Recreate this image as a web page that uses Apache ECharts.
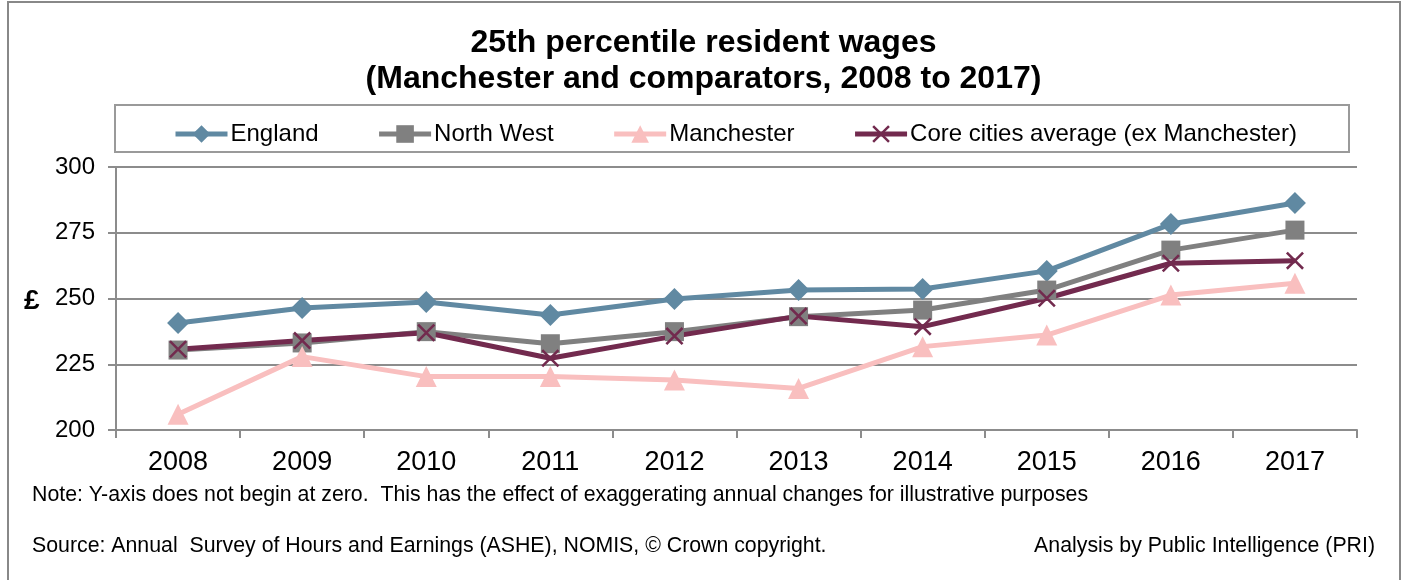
<!DOCTYPE html>
<html><head><meta charset="utf-8">
<script src="https://cdn.jsdelivr.net/npm/echarts@6/dist/echarts.min.js"></script>
<style>html,body{margin:0;padding:0;background:#fff}#c{width:1407px;height:580px}</style>
</head><body><div id="c"></div>
<script>
const years = ['2008','2009','2010','2011','2012','2013','2014','2015','2016','2017'];
const england = [240.7, 246.4, 248.7, 243.7, 249.8, 253.2, 253.6, 260.5, 278.3, 286.3];
const northWest = [230.4, 233.1, 237.4, 232.8, 237.4, 243.1, 245.6, 253.2, 268.4, 276.0];
const manchester = [206.0, 227.9, 220.3, 220.3, 219.0, 215.8, 231.7, 236.1, 251.3, 255.8];
const coreCities = [230.7, 234.0, 237.0, 227.3, 235.7, 243.3, 239.3, 250.1, 263.4, 264.4];
const yTicks = [200, 225, 250, 275, 300];

const F = 'Arial, "Liberation Sans", sans-serif';
const xPath = 'path://M0,1L1,0L10,9L9,10Z M9,0L10,1L1,10L0,9Z';

const chart = echarts.init(document.getElementById('c'), null, {renderer: 'canvas'});
function mk(name, data, color, symbol, size) {
  return {name, type: 'line', data, symbol, symbolSize: size, showSymbol: true,
    lineStyle: {color, width: 5}, itemStyle: {color, borderWidth: 0},
    emphasis: {disabled: true}, animation: false};
}
chart.setOption({
  animation: false,
  backgroundColor: '#fff',
  title: {
    text: '25th percentile resident wages\n(Manchester and comparators, 2008 to 2017)',
    left: 'center', top: 20,
    textStyle: {fontFamily: F, fontWeight: 'bold', fontSize: 32, lineHeight: 36, color: '#000'}
  },
  legend: {
    left: 168, top: 117, itemWidth: 52, itemHeight: 22, itemGap: 58,
    lineStyle: {width: 5},
    textStyle: {fontFamily: F, fontSize: 24, color: '#000', padding: [0,0,0,-2]},
    data: ['England', 'North West', 'Manchester', 'Core cities average (ex Manchester)']
  },
  grid: {left: 116, right: 50, top: 167, bottom: 150, containLabel: false},
  xAxis: {
    type: 'category', data: years, boundaryGap: true,
    axisLine: {lineStyle: {color: '#8c8c8c', width: 2}},
    axisTick: {show: true, length: 8, alignWithLabel: false, lineStyle: {color: '#8c8c8c', width: 2}},
    axisLabel: {fontFamily: F, fontSize: 27, color: '#000', margin: 19}
  },
  yAxis: {
    type: 'value', min: yTicks[0], max: yTicks[yTicks.length-1], interval: 25,
    axisLine: {show: true, lineStyle: {color: '#8c8c8c', width: 2}},
    axisTick: {show: true, length: 8, lineStyle: {color: '#8c8c8c', width: 2}},
    splitLine: {show: true, lineStyle: {color: '#8c8c8c', width: 2}},
    axisLabel: {fontFamily: F, fontSize: 24, color: '#000', margin: 21}
  },
  graphic: [
    {type: 'rect', shape: {x: 8, y: 2, width: 1392, height: 590}, style: {fill: 'none', stroke: '#888', lineWidth: 2}, silent: true},
    {type: 'rect', shape: {x: 115, y: 105, width: 1234, height: 47}, style: {fill: 'none', stroke: '#9a9a9a', lineWidth: 2}, silent: true},
    {type: 'text', left: 24, top: 287, style: {text: '£', font: 'bold 28px ' + F, fill: '#000'}},
    {type: 'text', left: 32, top: 485, style: {text: 'Note: Y-axis does not begin at zero.  This has the effect of exaggerating annual changes for illustrative purposes', font: '21.3px ' + F, fill: '#000'}},
    {type: 'text', left: 32, top: 536, style: {text: 'Source: Annual  Survey of Hours and Earnings (ASHE), NOMIS, \u00A9 Crown copyright.', font: '21.3px ' + F, fill: '#000'}},
    {type: 'text', right: 32, top: 536, style: {text: 'Analysis by Public Intelligence (PRI)', font: '21.3px ' + F, fill: '#000'}}
  ],
  series: [
    mk('England', england, '#6089a2', 'diamond', 22),
    mk('North West', northWest, '#808080', 'rect', 19),
    mk('Manchester', manchester, '#f9bfbf', 'triangle', 21),
    mk('Core cities average (ex Manchester)', coreCities, '#722a4e', xPath, 18)
  ]
});
</script></body></html>
